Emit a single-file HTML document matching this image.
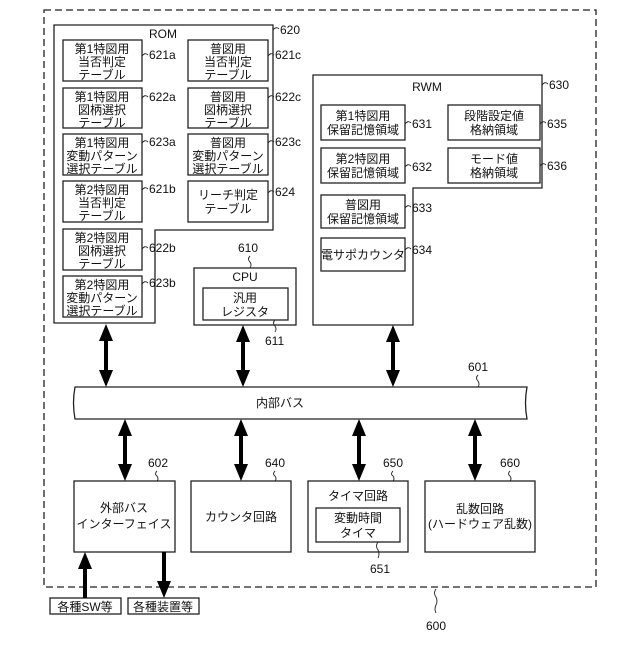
<!DOCTYPE html>
<html><head><meta charset="utf-8"><style>
html,body{margin:0;padding:0;background:#fff;}
text{font-family:"Liberation Sans","Noto Sans CJK JP",sans-serif;fill:#111;}
</style></head><body>
<svg width="640" height="640" viewBox="0 0 640 640" xmlns="http://www.w3.org/2000/svg">
<g fill="none" stroke="#222" stroke-width="1.3">
<rect x="44" y="10" width="552" height="577" stroke-dasharray="7,4"/>
<path d="M54,25H273V230H155V323H54Z"/>
<path d="M313,75H542V188H413V325H313Z"/>
<rect x="194" y="268" width="102" height="57"/>
<rect x="203" y="288" width="85" height="32"/>
<rect x="63" y="40" width="79" height="41"/><rect x="63" y="88" width="79" height="40"/>
<rect x="63" y="134" width="79" height="41"/><rect x="63" y="181" width="79" height="41"/>
<rect x="63" y="229" width="79" height="41"/><rect x="63" y="276" width="79" height="41"/>
<rect x="188" y="40" width="80" height="41"/><rect x="188" y="88" width="80" height="40"/>
<rect x="188" y="134" width="80" height="41"/><rect x="188" y="181" width="80" height="41"/>
<rect x="321" y="105" width="84" height="35"/><rect x="321" y="148" width="84" height="35"/>
<rect x="321" y="195" width="84" height="33"/><rect x="321" y="238" width="84" height="33"/>
<rect x="448" y="105" width="92" height="35"/><rect x="448" y="148" width="92" height="35"/>
<path d="M75,387H527Q524,403 527,419H75Q72,403 75,387Z"/>
<rect x="74" y="481" width="101" height="71"/><rect x="191" y="481" width="100" height="71"/>
<rect x="308" y="481" width="100" height="71"/><rect x="316" y="508" width="84" height="34"/>
<rect x="425" y="481" width="110" height="71"/>
<rect x="50" y="598" width="71" height="16"/><rect x="128" y="598" width="71" height="16"/>
<g stroke-width="0.9">
<path d="M142,56q3,-4 6,-1"/><path d="M268,56q3,-4 6,-1"/><path d="M142,98q3,-4 6,-1"/><path d="M268,98q3,-4 6,-1"/>
<path d="M142,143q3,-4 6,-1"/><path d="M268,143q3,-4 6,-1"/><path d="M142,190q3,-4 6,-1"/><path d="M268,193q3,-4 6,-1"/>
<path d="M142,249q3,-4 6,-1"/><path d="M142,284q3,-4 6,-1"/><path d="M273,30q3,-4 6,-1"/>
<path d="M405,124q3,-4 6,-1"/><path d="M405,167q3,-4 6,-1"/><path d="M405,208q3,-4 6,-1"/><path d="M405,250q3,-4 6,-1"/>
<path d="M540,124q3,-4 6,-1"/><path d="M540,166q3,-4 6,-1"/><path d="M542,85q3,-4 6,-1"/>
<path d="M250,256q-3,3 0,6q2,3 0,6"/><path d="M275,320q-3,3 0,6q2,3 0,6"/>
<path d="M478,375q-3,3 0,6q2,3 0,6"/>
<path d="M157,471q-3,3 0,5q2,3 0,5"/><path d="M275,471q-3,3 0,5q2,3 0,5"/><path d="M393,471q-3,3 0,5q2,3 0,5"/><path d="M510,471q-3,3 0,5q2,3 0,5"/>
<path d="M378,542q-3,4 0,8q2,4 0,8"/>
<path d="M436,589q-3,4 0,8q2,4 0,8q-2,4 0,8"/>
</g>
</g>
<g stroke="#000" stroke-width="4" fill="#000">
<line x1="106" y1="337" x2="106" y2="374"/><path d="M99,341L106,324L113,341Z M99,370L106,387L113,370Z" stroke="none"/>
<line x1="243" y1="338" x2="243" y2="374"/><path d="M236,342L243,325L250,342Z M236,370L243,387L250,370Z" stroke="none"/>
<line x1="393" y1="338" x2="393" y2="374"/><path d="M386,342L393,325L400,342Z M386,370L393,387L400,370Z" stroke="none"/>
<line x1="125" y1="432" x2="125" y2="468"/><path d="M118,436L125,419L132,436Z M118,464L125,481L132,464Z" stroke="none"/>
<line x1="241" y1="432" x2="241" y2="468"/><path d="M234,436L241,419L248,436Z M234,464L241,481L248,464Z" stroke="none"/>
<line x1="359" y1="432" x2="359" y2="468"/><path d="M352,436L359,419L366,436Z M352,464L359,481L366,464Z" stroke="none"/>
<line x1="475" y1="432" x2="475" y2="468"/><path d="M468,436L475,419L482,436Z M468,464L475,481L482,464Z" stroke="none"/>
<line x1="85" y1="566" x2="85" y2="598"/><path d="M78,569L85,552L92,569Z" stroke="none"/>
<line x1="164" y1="552" x2="164" y2="584"/><path d="M157,581L164,598L171,581Z" stroke="none"/>
</g>
<g font-size="12" text-anchor="middle">
<text x="163" y="38">ROM</text>
<text x="102" y="53">第1特図用</text><text x="102" y="66">当否判定</text><text x="102" y="79">テーブル</text>
<text x="102" y="101">第1特図用</text><text x="102" y="114">図柄選択</text><text x="102" y="127">テーブル</text>
<text x="102" y="147">第1特図用</text><text x="102" y="160">変動パターン</text><text x="102" y="173">選択テーブル</text>
<text x="102" y="194">第2特図用</text><text x="102" y="207">当否判定</text><text x="102" y="220">テーブル</text>
<text x="102" y="242">第2特図用</text><text x="102" y="255">図柄選択</text><text x="102" y="268">テーブル</text>
<text x="102" y="289">第2特図用</text><text x="102" y="302">変動パターン</text><text x="102" y="315">選択テーブル</text>
<text x="228" y="53">普図用</text><text x="228" y="66">当否判定</text><text x="228" y="79">テーブル</text>
<text x="228" y="101">普図用</text><text x="228" y="114">図柄選択</text><text x="228" y="127">テーブル</text>
<text x="228" y="147">普図用</text><text x="228" y="160">変動パターン</text><text x="228" y="173">選択テーブル</text>
<text x="228" y="199">リーチ判定</text><text x="228" y="213">テーブル</text>
<text x="245" y="281">CPU</text><text x="245" y="302">汎用</text><text x="245" y="316">レジスタ</text>
<text x="427" y="91">RWM</text>
<text x="363" y="120">第1特図用</text><text x="363" y="134">保留記憶領域</text>
<text x="363" y="163">第2特図用</text><text x="363" y="177">保留記憶領域</text>
<text x="363" y="209">普図用</text><text x="363" y="223">保留記憶領域</text>
<text x="363" y="259">電サポカウンタ</text>
<text x="494" y="120">段階設定値</text><text x="494" y="134">格納領域</text>
<text x="494" y="163">モード値</text><text x="494" y="177">格納領域</text>
<text x="280" y="407">内部バス</text>
<text x="124" y="512">外部バス</text><text x="124" y="528">インターフェイス</text>
<text x="241" y="521">カウンタ回路</text>
<text x="358" y="500">タイマ回路</text><text x="358" y="522">変動時間</text><text x="358" y="537">タイマ</text>
<text x="480" y="513">乱数回路</text><text x="480" y="528">(ハードウェア乱数)</text>
<text x="85" y="611">各種SW等</text><text x="163" y="611">各種装置等</text>
</g>
<g font-size="12">
<text x="149" y="59">621a</text><text x="275" y="59">621c</text>
<text x="149" y="101">622a</text><text x="275" y="101">622c</text>
<text x="149" y="146">623a</text><text x="275" y="146">623c</text>
<text x="149" y="193">621b</text><text x="275" y="196">624</text>
<text x="149" y="252">622b</text><text x="149" y="287">623b</text>
<text x="280" y="34">620</text><text x="238" y="252">610</text><text x="265" y="345">611</text>
<text x="549" y="89">630</text>
<text x="412" y="128">631</text><text x="412" y="171">632</text><text x="412" y="212">633</text><text x="412" y="254">634</text>
<text x="547" y="128">635</text><text x="547" y="170">636</text>
<text x="468" y="371">601</text>
<text x="148" y="467">602</text><text x="265" y="467">640</text><text x="383" y="467">650</text><text x="500" y="467">660</text>
<text x="370" y="573">651</text><text x="426" y="630">600</text>
</g>
</svg>
</body></html>
